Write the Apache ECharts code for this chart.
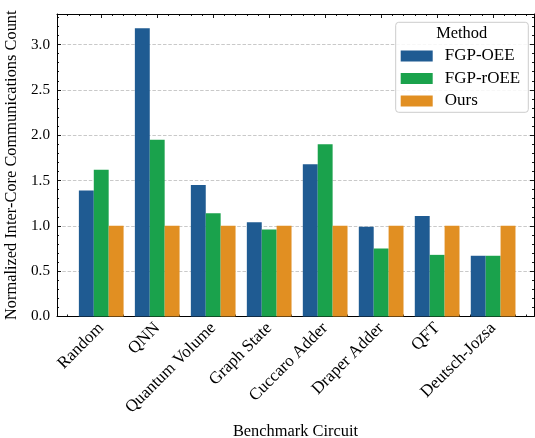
<!DOCTYPE html>
<html>
<head>
<meta charset="utf-8">
<script src="https://cdn.jsdelivr.net/npm/echarts@6/dist/echarts.min.js"></script>
<style>html,body{margin:0;padding:0;background:#fff}#c{width:535px;height:438px}</style>
</head>
<body>
<div id="c"></div>
<script>
const categories = ['Random','QNN','Quantum Volume','Graph State','Cuccaro Adder','Draper Adder','QFT','Deutsch-Jozsa'];
const seriesNames = ['FGP-OEE','FGP-rOEE','Ours'];
const fgpOEE  = [1.39, 3.18, 1.45, 1.04, 1.68, 0.99, 1.11, 0.67];
const fgpROEE = [1.62, 1.95, 1.14, 0.96, 1.90, 0.75, 0.68, 0.67];
const ours    = [1.00, 1.00, 1.00, 1.00, 1.00, 1.00, 1.00, 1.00];
const yTicks = [0, 0.5, 1.0, 1.5, 2.0, 2.5, 3.0];
const xTitle = 'Benchmark Circuit';
const yTitle = 'Normalized Inter-Core Communications Count';
const legendTitle = 'Method';

const colors = ['#1f5b92', '#1aa24c', '#e18f22'];
const FONT = 'Liberation Serif';
const FS_TITLE = 16.4, FS_XLAB = 17, FS_YLAB = 15.2, FS_LEG = 17;
const XMIN = -0.79, XMAX = 7.73, YMIN = 0, YMAX = 3.337;

const xMajor = categories.map((c, i) => i);
const xMinor = [];
for (let k = -3; k <= 38; k++) { if (k % 5 !== 0) xMinor.push(k / 5); }
const yMinor = [];
for (let k = 1; k <= 33; k++) { if (k % 5 !== 0) yMinor.push(k / 10); }

const tickLine = { color: '#000', width: 0.9 };
function xAx(pos, vals, len, labels, showLine) {
  return {
    type: 'value', position: pos, min: XMIN, max: XMAX,
    axisLine: { show: showLine, onZero: false, lineStyle: { color: '#000', width: 1 } },
    axisTick: { show: true, inside: true, length: len, customValues: vals, lineStyle: tickLine },
    axisLabel: labels ? {
      show: true, customValues: xMajor, rotate: 45, margin: 9,
      formatter: v => categories[Math.round(v)],
      fontFamily: FONT, fontSize: FS_XLAB, color: '#000'
    } : { show: false },
    splitLine: { show: false }
  };
}
function yAx(pos, vals, len, labels, showLine) {
  return {
    type: 'value', position: pos, min: YMIN, max: YMAX, interval: 0.5,
    axisLine: { show: showLine, onZero: false, lineStyle: { color: '#000', width: 1 } },
    axisTick: { show: true, inside: true, length: len, customValues: vals, lineStyle: tickLine },
    axisLabel: labels ? {
      show: true, customValues: yTicks, margin: 7,
      formatter: v => v.toFixed(1),
      fontFamily: FONT, fontSize: FS_YLAB, color: '#000'
    } : { show: false },
    splitLine: { show: false }
  };
}

const xAxes = [
  xAx('bottom', xMajor, 4, true, true),
  xAx('bottom', xMinor, 2, false, false),
  xAx('top', xMajor, 4, false, true),
  xAx('top', xMinor, 2, false, false)
];
Object.assign(xAxes[0], {
  name: xTitle, nameLocation: 'middle', nameGap: 104,
  nameTextStyle: { fontFamily: FONT, fontSize: FS_TITLE, color: '#000' }
});
const yAxes = [
  yAx('left', yTicks, 4, true, true),
  yAx('left', yMinor, 2, false, false),
  yAx('right', yTicks, 4, false, true),
  yAx('right', yMinor, 2, false, false)
];
Object.assign(yAxes[0], {
  name: yTitle, nameLocation: 'middle', nameGap: 31,
  nameTextStyle: { fontFamily: FONT, fontSize: FS_TITLE, color: '#000' },
  splitLine: { show: true, lineStyle: { color: '#bbbbbb', width: 0.8, type: [3.5, 1.8] } }
});

const valueSets = [fgpOEE, fgpROEE, ours];
const series = seriesNames.map((name, s) => ({
  name, type: 'bar', xAxisIndex: 0, yAxisIndex: 0,
  data: valueSets[s].map((v, i) => [i, v]),
  barWidth: 14.9, barGap: '0%',
  itemStyle: { color: colors[s] },
  z: 2
}));

const chart = echarts.init(document.getElementById('c'), null, { renderer: 'canvas' });
chart.setOption({
  animation: false,
  backgroundColor: '#fff',
  grid: { left: 57, right: 1, top: 14, bottom: 121.5, containLabel: false, outerBoundsMode: 'none' },
  xAxis: xAxes,
  yAxis: yAxes,
  legend: {
    data: seriesNames, orient: 'vertical', left: 400.7, top: 47.5,
    itemWidth: 32, itemHeight: 11, itemGap: 5.5, icon: 'rect', padding: 0, z: 10,
    textStyle: { fontFamily: FONT, fontSize: FS_LEG, color: '#000', lineHeight: 16.5, padding: [0, 0, 0, 7] }
  },
  graphic: [
    { type: 'rect', z: 5, shape: { x: 395.7, y: 22.3, width: 132.6, height: 90, r: 3 },
      style: { fill: 'rgba(255,255,255,0.85)', stroke: '#cccccc', lineWidth: 1 } },
    { type: 'text', z: 6, x: 461.7, y: 34,
      style: { text: legendTitle, fontFamily: FONT, fontSize: FS_TITLE, fill: '#000', align: 'center', verticalAlign: 'middle' } }
  ],
  series
});
</script>
</body>
</html>
